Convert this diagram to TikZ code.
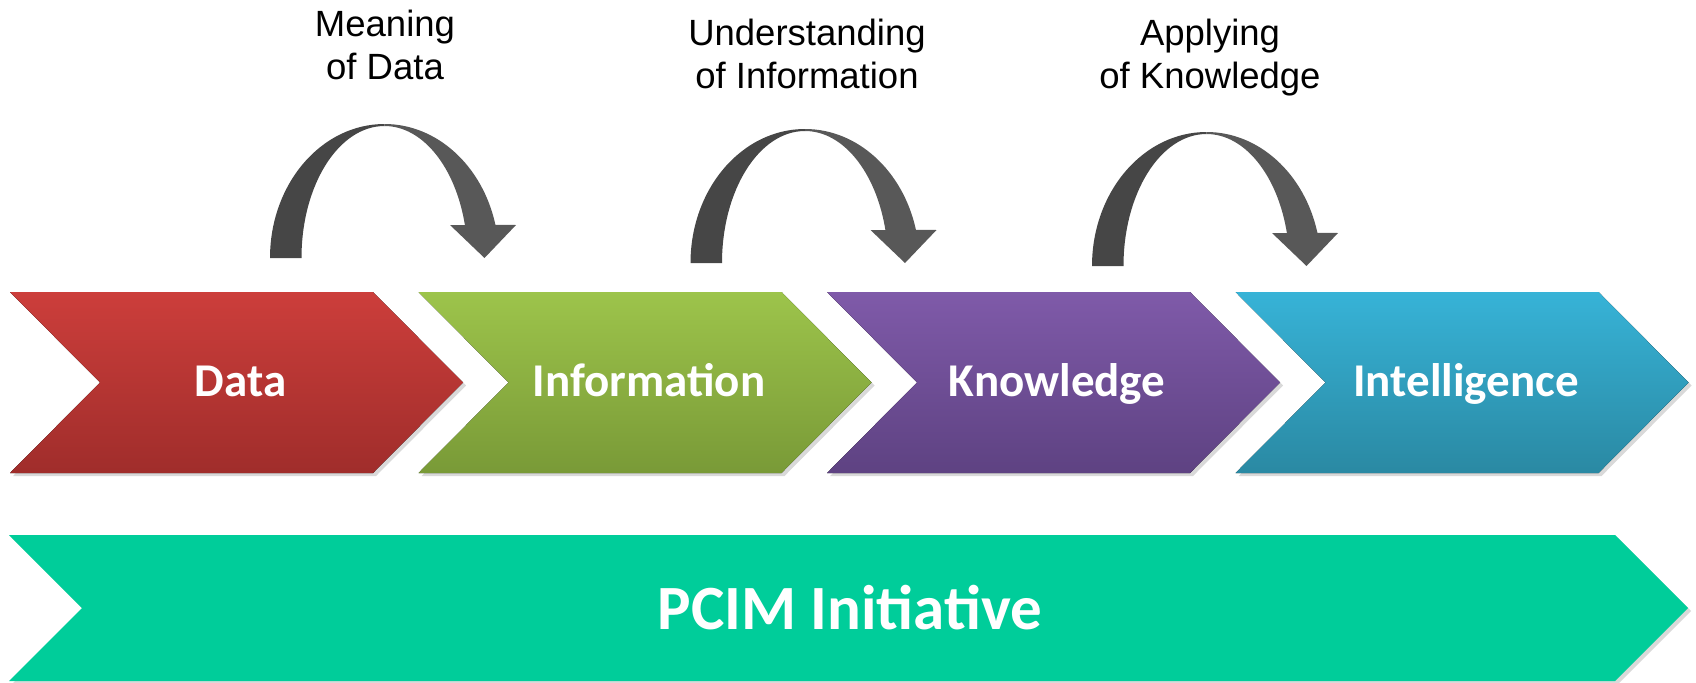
\documentclass[tikz,border=0pt]{standalone}
\usepackage{fontspec}
\usepackage{tikz}
\usetikzlibrary{shadows}
\newfontfamily\stepfont{Carlito}
\newfontfamily\notefont{Liberation Sans}
\definecolor{datatop}{HTML}{CC3E3B}
\definecolor{databot}{HTML}{A02D2B}
\definecolor{infotop}{HTML}{9DC44B}
\definecolor{infobot}{HTML}{799A37}
\definecolor{knowtop}{HTML}{7F5AA9}
\definecolor{knowbot}{HTML}{5E4282}
\definecolor{inteltop}{HTML}{37B3D7}
\definecolor{intelbot}{HTML}{2A89A3}
\definecolor{pcimgreen}{HTML}{00CD9A}
\definecolor{arrowdark}{HTML}{464646}
\definecolor{arrowlight}{HTML}{585858}

\begin{document}
\begin{tikzpicture}%
	[x=0.5pt, y=0.5pt,
	chevron/.style={drop shadow={opacity=0.3, shadow xshift=1.5pt, shadow yshift=-1.5pt}},
	banner/.style={fill=pcimgreen, drop shadow={opacity=0.3, shadow xshift=1.5pt, shadow yshift=-1.5pt}},
	steplabel/.style={text=white, anchor=base, inner sep=0pt, font=\stepfont\bfseries\fontsize{23.5}{28}\selectfont},
	notelabel/.style={align=center, anchor=north, inner sep=0pt, font=\notefont\fontsize{18.25}{21.5}\selectfont},
	bend arrow/.pic={
		\fill[arrowdark] (-114.5,0) arc[start angle=180, end angle=90, x radius=114.5, y radius=134]
			-- (0,132) arc[start angle=90, end angle=180, x radius=83, y radius=132] -- cycle;
		\fill[arrowlight] (0,134) arc[start angle=90, end angle=14.3, x radius=114.5, y radius=134]
			-- (131.5,33) -- (100,0) -- (65.5,33) -- (80.4,33)
			arc[start angle=14.48, end angle=90, x radius=83, y radius=132] -- cycle;
	}]
%
\useasboundingbox (0,0) rectangle (1696,682);
%%
%% Drawing the chevrons
%%
\fill[chevron, top color=datatop, bottom color=databot] (10,390) -- (373,390) -- (463,299.5) -- (373,209) -- (10,209) -- (100,299.5) -- cycle;
\fill[chevron, top color=infotop, bottom color=infobot] (418.5,390) -- (781.5,390) -- (871.5,299.5) -- (781.5,209) -- (418.5,209) -- (508.5,299.5) -- cycle;
\fill[chevron, top color=knowtop, bottom color=knowbot] (827,390) -- (1190,390) -- (1280,299.5) -- (1190,209) -- (827,209) -- (917,299.5) -- cycle;
\fill[chevron, top color=inteltop, bottom color=intelbot] (1235.5,390) -- (1598.5,390) -- (1688.5,299.5) -- (1598.5,209) -- (1235.5,209) -- (1325.5,299.5) -- cycle;
%%
\fill[banner] (9,147) -- (1615,147) -- (1688,74) -- (1615,1) -- (9,1) -- (82,74) -- cycle;
%%
%% Drawing the bent arrows
%%
\pic (meaningarrow) at (384.5,424) {bend arrow};
\pic (understandingarrow) at (805,419) {bend arrow};
\pic (applyingarrow) at (1206.5,416) {bend arrow};
%%
%% Drawing the labels
%%
\node[steplabel] (data) at (240.5,286) {Data};
\node[steplabel] (information) at (649,286) {Information};
\node[steplabel] (knowledge) at (1057,286) {Knowledge};
\node[steplabel] (intelligence) at (1466,286) {Intelligence};
\node[steplabel, font=\stepfont\bfseries\fontsize{31.5}{36}\selectfont] (pcim) at (850,53) {PCIM Initiative};
%%
\node[notelabel] (meaning) at (385,672) {Meaning\\of Data};
\node[notelabel] (understanding) at (807,663) {Understanding\\of Information};
\node[notelabel] (applying) at (1210,663) {Applying\\of Knowledge};
%%
\end{tikzpicture}
\end{document}
